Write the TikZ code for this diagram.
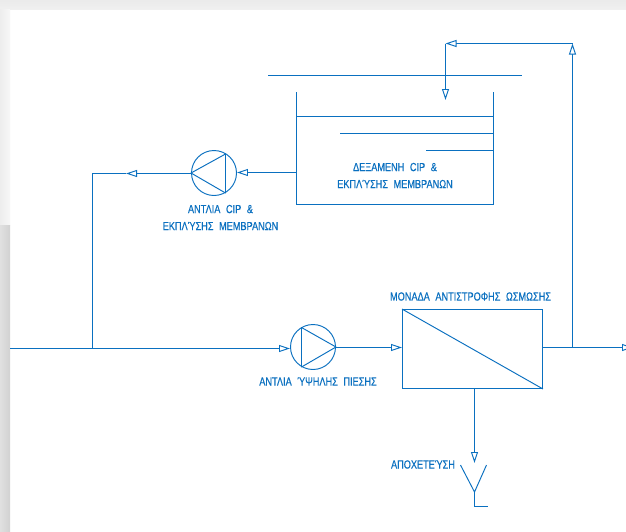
\documentclass[tikz,border=0pt]{standalone}
\usepackage{fontspec}
\newfontfamily\lblfont[FakeStretch=0.78,WordSpace=2.2,FakeBold=0.35]{Liberation Sans}
\usetikzlibrary{arrows.meta,shadings}
\definecolor{flow}{HTML}{0A70C0}
\tikzset{
  x=1pt,y=-1pt,
  pipe/.style={draw=flow,line width=0.95pt},
  tip/.style={-{Triangle[open,length=11pt,width=7pt,fill=white]}},
  lbl/.style={text=flow,font=\lblfont\fontsize{11.75}{17}\selectfont,inner sep=0pt,align=center},
  pumpbody/.style={circle,draw=flow,line width=0.95pt,minimum size=45pt,inner sep=0pt},
  unitbox/.style={rectangle,draw=flow,line width=0.95pt,inner sep=0pt},
}
\begin{document}
\begin{tikzpicture}
\useasboundingbox (0,0) rectangle (626,531);
% page backdrop
\fill[white] (0,0) rectangle (626,531);
\shade[top color=black!8!white,bottom color=black!6!white] (0,0) rectangle (626,9);
\shade[left color=black!7!white,right color=black!3!white] (0,9) rectangle (10,225);
\shade[left color=black!12!white,right color=black!18!white] (0,225) rectangle (10,531);
% reference points
\node[pumpbody] (p1) at (214,173) {};
\node[pumpbody] (p2) at (313,347) {};
\node[unitbox,minimum width=140pt,minimum height=79pt] (ro) at (472.5,349) {};
\coordinate (tankNW) at (296.5,92);
\coordinate (tankNE) at (493.5,92);
\coordinate (tankSW) at (296.5,204.5);
\coordinate (tankSE) at (493.5,204.5);
\coordinate (tankIn) at (296.5,172.5);
\coordinate (inS) at (10,348.5);
\coordinate (junc) at (92.5,348.5);
\coordinate (corner) at (92.5,173.5);
\coordinate (recTip) at (126,173.5);
\coordinate (outE) at (572.5,347.5);
\coordinate (outEnd) at (633,347.5);
\coordinate (retTip) at (572.5,43.5);
\coordinate (retMid) at (445.5,43.5);
\coordinate (fillTip) at (445.5,100);
\coordinate (drainTop) at (474.5,388.5);
\coordinate (drainTip) at (474.5,463);
\coordinate (funnelB) at (474.5,492);
% pump triangles
\draw[pipe,line join=round] (p1.west) -- (225.5,154) -- (225.5,193) -- cycle;
\draw[pipe,line join=round] (p2.east) -- (301.5,327.5) -- (301.5,367) -- cycle;
% tank
\draw[pipe] (tankNW) -- (tankSW) -- (tankSE) -- (tankNE);
\draw[pipe] (268,75.5) -- (522,75.5);
\draw[pipe] (tankNW |- 0,116.5) -- (494,116.5);
\draw[pipe] (340,133.5) -- (494,133.5);
\draw[pipe] (426,150.5) -- (494,150.5);
% RO diagonal
\draw[pipe] (ro.north west) -- (ro.south east);
% connectors
\draw[pipe] (inS) -- (junc);
\draw[pipe,tip] (junc) -- (junc -| p2.west);
\draw[pipe] (junc) -- (corner) -- (recTip);
\draw[pipe,tip] (corner -| p1.west) -- (recTip);
\draw[pipe,tip] (tankIn) -- (tankIn -| p1.east);
\draw[pipe,tip] (outE -| p2.east) -- (outE -| ro.west);
\draw[pipe,tip] (outE -| ro.east) -- (outEnd);
\draw[pipe,tip] (outE) -- (retTip);
\draw[pipe,tip] (retTip) -- (retMid);
\draw[pipe,tip] (retMid) -- (fillTip);
\draw[pipe,tip] (drainTop) -- (drainTip);
% drain funnel
\draw[pipe] (460.5,465) -- (funnelB) -- (486.5,465);
\draw[pipe] (funnelB) -- (474.5,506.5) -- (488,506.5);
% labels
\node[lbl] (lp1) at (220.5,217.5) {ΑΝΤΛΙΑ CIP \&\\ΕΚΠΛΎΣΗΣ ΜΕΜΒΡΑΝΩΝ};
\node[lbl] (ltank) at (395,175.5) {ΔΕΞΑΜΕΝΗ CIP \&\\ΕΚΠΛΎΣΗΣ ΜΕΜΒΡΑΝΩΝ};
\node[lbl] (lro) at (470.5,296.5) {ΜΟΝΑΔΑ ΑΝΤΙΣΤΡΟΦΗΣ ΩΣΜΩΣΗΣ};
\node[lbl] (lp2) at (318,381.5) {ΑΝΤΛΙΑ ΎΨΗΛΗΣ ΠΙΕΣΗΣ};
\node[lbl] (ldr) at (423,464.5) {ΑΠΟΧΕΤΕΎΣΗ};
\end{tikzpicture}
\end{document}
